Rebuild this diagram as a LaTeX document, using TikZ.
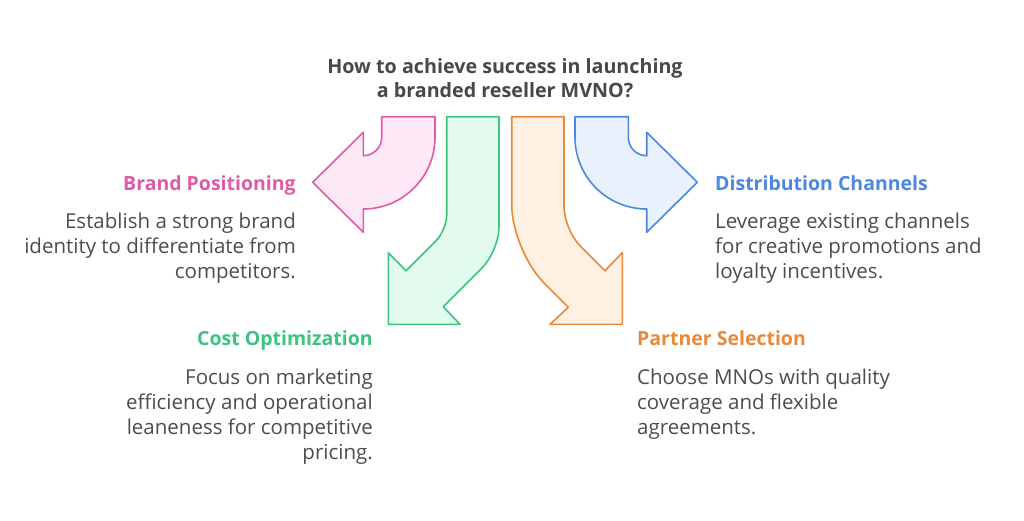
\documentclass[tikz,border=0pt]{standalone}
\usepackage{fontspec}
\setmainfont{Open Sans}
\definecolor{pinkS}{HTML}{E05AAA}
\definecolor{pinkF}{HTML}{FDE9F5}
\definecolor{greenS}{HTML}{3DC47E}
\definecolor{greenF}{HTML}{E3FBEF}
\definecolor{orangeS}{HTML}{E88A3B}
\definecolor{orangeF}{HTML}{FEF0E3}
\definecolor{blueS}{HTML}{4C87E2}
\definecolor{blueF}{HTML}{E9F1FD}
\definecolor{bodyC}{HTML}{4D4D4D}
\definecolor{titleC}{HTML}{484848}
\begin{document}
\begin{tikzpicture}[x=1pt,y=-1pt,
  arrowshape/.style={line width=1.6pt,line join=round},
  head/.style={inner sep=0pt,font=\bfseries\fontsize{19.5}{22}\selectfont},
  body/.style={inner sep=0pt,text=bodyC,font=\fontsize{20.5}{24.8}\selectfont},
  ttl/.style={inner sep=0pt,text=titleC,align=center,font=\bfseries\fontsize{19.7}{24.5}\selectfont}]
\useasboundingbox[fill=white] (0,0) rectangle (1024,520);

% title
\node[ttl,anchor=north] (title) at (505,58) {How to achieve success in launching\\a branded reseller MVNO?};

% pink arrow
\draw[arrowshape,draw=pinkS,fill=pinkF] (381.7,116.7) -- (435,116.7) -- (435,137.3)
  arc[start angle=0,end angle=90,radius=71.7] -- (363.3,232.3) -- (312.7,182.3) -- (363.3,132.3)
  -- (363.3,155.7) arc[start angle=90,end angle=0,radius=18.4] -- cycle;

% blue arrow
\draw[arrowshape,draw=blueS,fill=blueF] (628.3,116.7) -- (575,116.7) -- (575,137.3)
  arc[start angle=180,end angle=90,radius=71.7] -- (646.7,232.3) -- (697.3,182.3) -- (646.7,132.3)
  -- (646.7,155.7) arc[start angle=90,end angle=180,radius=18.4] -- cycle;

% green arrow
\draw[arrowshape,draw=greenS,fill=greenF] (446.7,116.7) -- (499,116.7)
  [rounded corners=24pt] -- (499,251) [sharp corners] -- (443.3,306.7) -- (460,324.3)
  -- (388.3,324.3) -- (388.3,252.7) -- (406,270.7)
  [rounded corners=15pt] -- (446.7,230) [sharp corners] -- cycle;

% orange arrow
\draw[arrowshape,draw=orangeS,fill=orangeF] (511.7,116.7) -- (564,116.7)
  [rounded corners=23pt] -- (564,229.7) [sharp corners] -- (605,270.7) -- (622.3,252.7)
  -- (622.3,324.3) -- (550,324.3) -- (568.3,307.3)
  [rounded corners=46pt] -- (511.7,250.7) [sharp corners] -- cycle;

% labels
\node[head,text=pinkS,anchor=base east] (bpH) at (296,190) {Brand Positioning};
\node[body,align=right,anchor=north east] (bpB) at (296,213) {Establish a strong brand\\identity to differentiate from\\competitors.};

\node[head,text=blueS,anchor=base west] (dcH) at (715,190) {Distribution Channels};
\node[body,align=left,anchor=north west] (dcB) at (715,213) {Leverage existing channels\\for creative promotions and\\loyalty incentives.};

\node[head,text=greenS,anchor=base east] (coH) at (373,345) {Cost Optimization};
\node[body,align=right,anchor=north east] (coB) at (373,369) {Focus on marketing\\efficiency and operational\\leaneness for competitive\\pricing.};

\node[head,text=orangeS,anchor=base west] (psH) at (637,345) {Partner Selection};
\node[body,align=left,anchor=north west] (psB) at (637,369) {Choose MNOs with quality\\coverage and flexible\\agreements.};
\end{tikzpicture}
\end{document}
